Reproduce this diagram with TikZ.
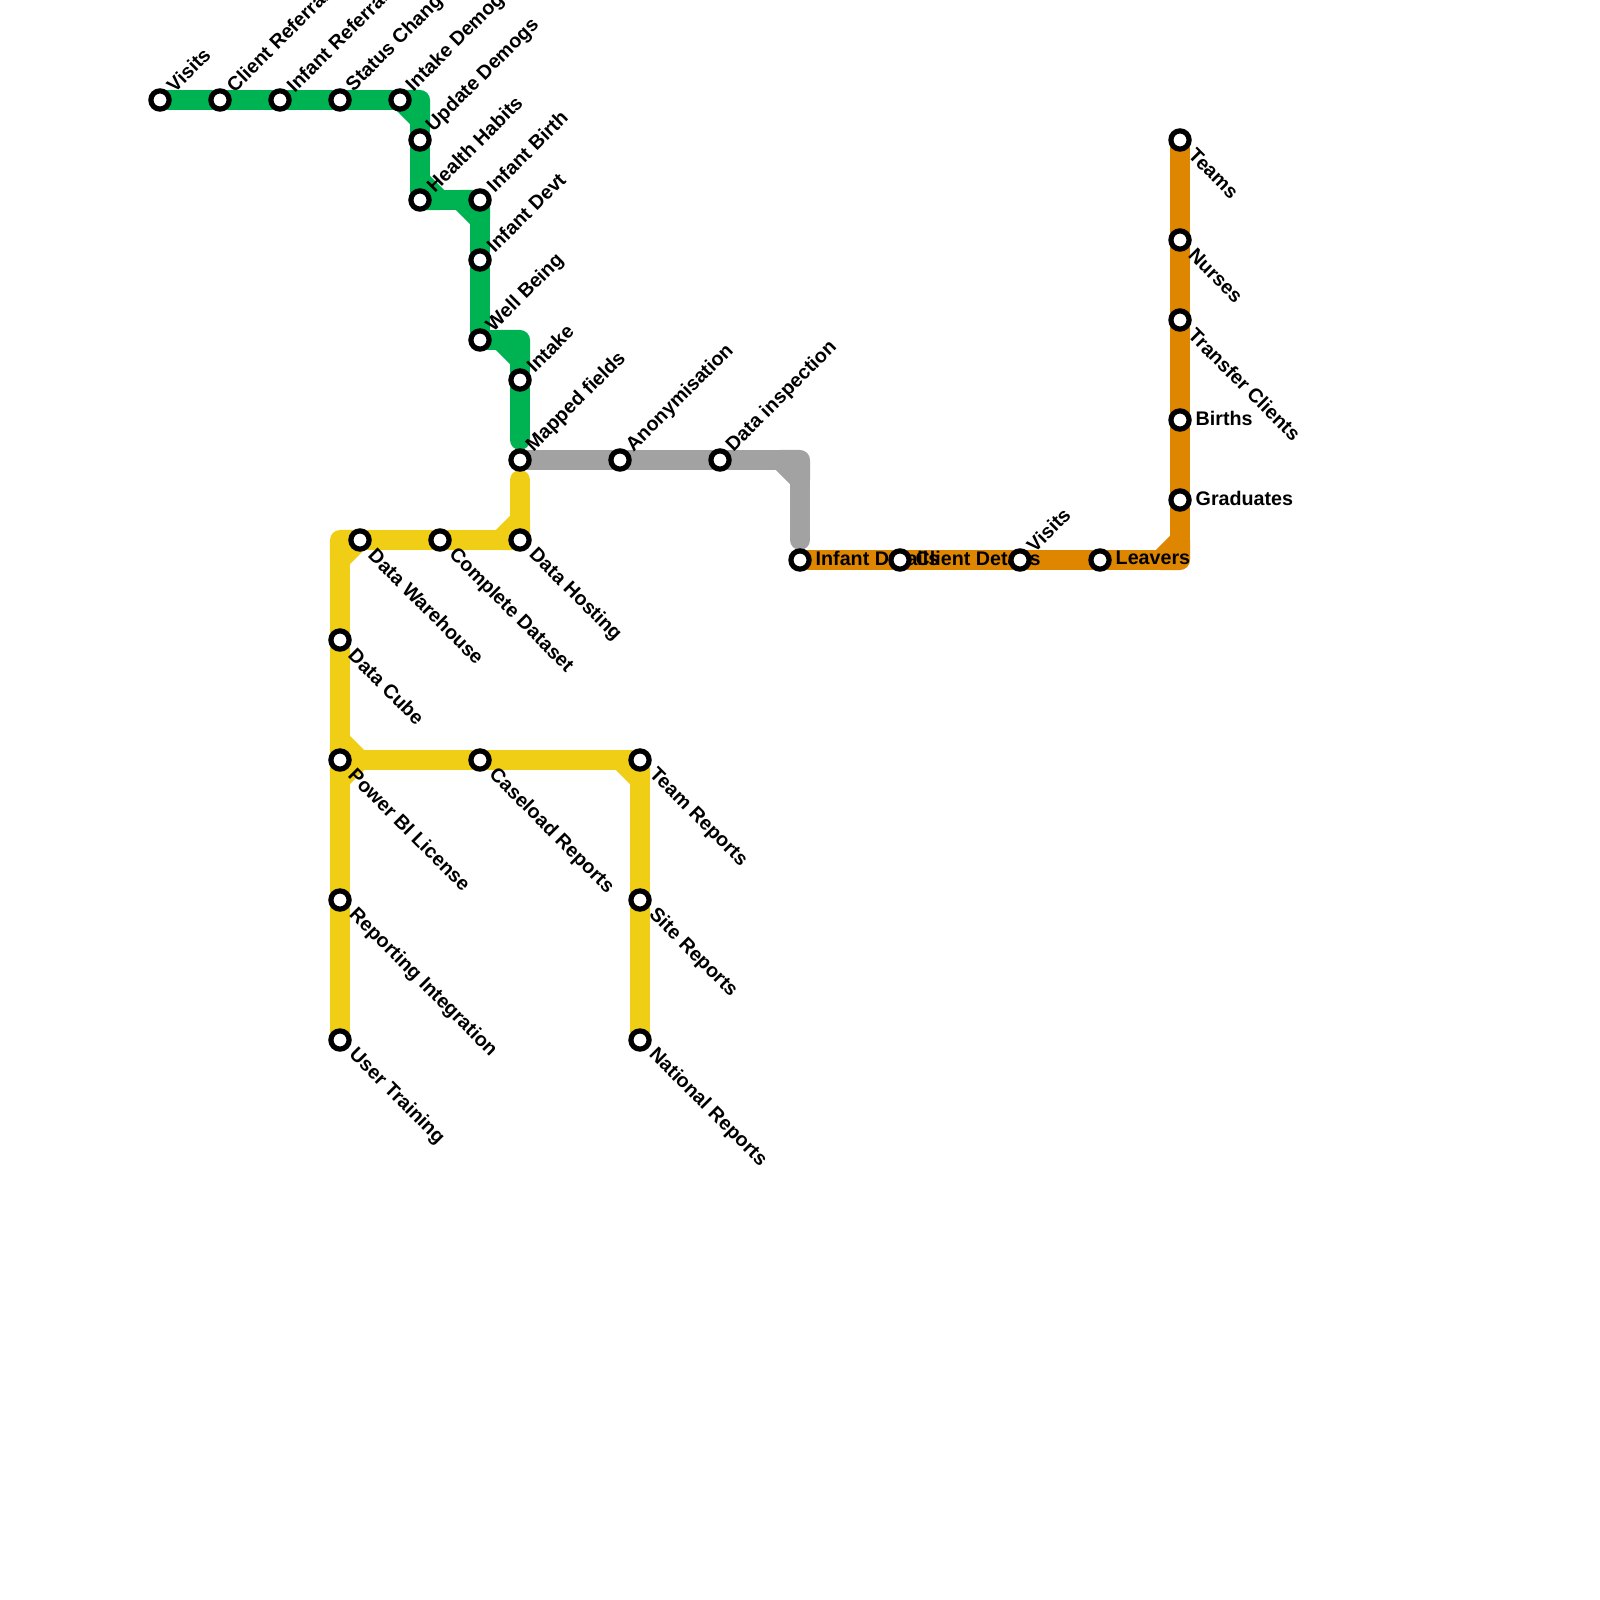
\documentclass[tikz,border=0pt]{standalone}
\usepackage{fontspec}
\setmainfont{Liberation Sans}
\usepackage{xcolor}
\definecolor{linegreen}{HTML}{00B352}
\definecolor{lineyellow}{HTML}{F0CE15}
\definecolor{linegray}{HTML}{A2A2A2}
\definecolor{lineorange}{HTML}{DF8600}
\usetikzlibrary{backgrounds}

\begin{document}
\begin{tikzpicture}[
  x=0.01cm, y=-0.01cm,
  stn/.style={circle, draw=black, fill=white, line width=0.052cm, minimum size=0.182cm, inner sep=0pt},
  track/.style={line width=0.2cm, line cap=round, line join=round},
  lbl/.style={font=\fontsize{5.6}{6.7}\selectfont\bfseries, inner sep=0pt, text=black},
  lblup/.style={lbl, anchor=west, xshift=0.095cm, yshift=0.11cm, rotate=45},
  lbldn/.style={lbl, anchor=west, xshift=0.115cm, yshift=-0.115cm, rotate=-45},
  lblrt/.style={lbl, anchor=west, xshift=0.15cm, yshift=0.02cm},
]
\useasboundingbox (0,0) rectangle (1600,1600);

\node[stn] (visits)    at (160,100) {};
\node[stn] (clientref) at (220,100) {};
\node[stn] (infantref) at (280,100) {};
\node[stn] (status)    at (340,100) {};
\node[stn] (intakedem) at (400,100) {};
\node[stn] (updatedem) at (420,140) {};
\node[stn] (health)    at (420,200) {};
\node[stn] (birth)     at (480,200) {};
\node[stn] (devt)      at (480,260) {};
\node[stn] (wellbeing) at (480,340) {};
\node[stn] (intake)    at (520,380) {};
\node[stn] (mapped)    at (520,460) {};
\node[stn] (anon)      at (620,460) {};
\node[stn] (inspect)   at (720,460) {};

\node[stn] (hosting)   at (520,540) {};
\node[stn] (complete)  at (440,540) {};
\node[stn] (warehouse) at (360,540) {};
\node[stn] (cube)      at (340,640) {};
\node[stn] (powerbi)   at (340,760) {};
\node[stn] (reporting) at (340,900) {};
\node[stn] (training)  at (340,1040) {};
\node[stn] (caseload)  at (480,760) {};
\node[stn] (team)      at (640,760) {};
\node[stn] (site)      at (640,900) {};
\node[stn] (national)  at (640,1040) {};

\node[stn] (infantdet) at (800,560) {};
\node[stn] (clientdet) at (900,560) {};
\node[stn] (visitsb)   at (1020,560) {};
\node[stn] (leavers)   at (1100,560) {};
\node[stn] (graduates) at (1180,500) {};
\node[stn] (births)    at (1180,420) {};
\node[stn] (transfer)  at (1180,320) {};
\node[stn] (nurses)    at (1180,240) {};
\node[stn] (teams)     at (1180,140) {};

\coordinate (ga) at (420,100);
\coordinate (gb) at (420,120);
\coordinate (gc) at (420,180);
\coordinate (gd) at (440,200);
\coordinate (ge) at (460,200);
\coordinate (gf) at (480,220);
\coordinate (gg) at (500,340);
\coordinate (gh) at (520,340);
\coordinate (gi) at (520,360);
\coordinate (gj) at (520,440);

\coordinate (ya) at (520,480);
\coordinate (yb) at (520,520);
\coordinate (yc) at (500,540);
\coordinate (yd) at (340,540);
\coordinate (ye) at (340,560);
\coordinate (yf) at (340,740);
\coordinate (yg) at (360,760);
\coordinate (yh) at (340,780);
\coordinate (yi) at (620,760);
\coordinate (yj) at (640,780);

\coordinate (ra) at (780,460);
\coordinate (rb) at (800,460);
\coordinate (rc) at (800,480);
\coordinate (rd) at (800,540);

\coordinate (oa) at (1160,560);
\coordinate (ob) at (1180,560);
\coordinate (oc) at (1180,540);

\begin{scope}[on background layer]
\draw[track, linegreen] (visits.center) -- (clientref.center) -- (infantref.center) -- (status.center) -- (intakedem.center);
\draw[track, linegreen] (intakedem.center) -- (ga) -- (gb) -- cycle;
\draw[track, linegreen] (gb) -- (updatedem.center) -- (health.center);
\draw[track, linegreen] (gc) -- (health.center) -- (gd) -- cycle;
\draw[track, linegreen] (gd) -- (ge);
\draw[track, linegreen] (ge) -- (birth.center) -- (gf) -- cycle;
\draw[track, linegreen] (gf) -- (devt.center) -- (wellbeing.center);
\draw[track, linegreen] (wellbeing.center) -- (gg);
\draw[track, linegreen] (gg) -- (gh) -- (gi) -- cycle;
\draw[track, linegreen] (gi) -- (intake.center) -- (gj);

\draw[track, lineyellow] (ya) -- (yb);
\draw[track, lineyellow] (yb) -- (hosting.center) -- (yc) -- cycle;
\draw[track, lineyellow] (yc) -- (complete.center) -- (warehouse.center);
\draw[track, lineyellow] (warehouse.center) -- (yd) -- (ye) -- cycle;
\draw[track, lineyellow] (ye) -- (cube.center) -- (yf);
\draw[track, lineyellow] (yf) -- (powerbi.center) -- (yg) -- cycle;
\draw[track, lineyellow] (yg) -- (powerbi.center) -- (yh) -- cycle;
\draw[track, lineyellow] (yh) -- (reporting.center) -- (training.center);
\draw[track, lineyellow] (yg) -- (caseload.center) -- (yi);
\draw[track, lineyellow] (yi) -- (team.center) -- (yj) -- cycle;
\draw[track, lineyellow] (yj) -- (site.center) -- (national.center);

\draw[track, linegray] (mapped.center) -- (anon.center) -- (inspect.center) -- (ra);
\draw[track, linegray] (ra) -- (rb) -- (rc) -- cycle;
\draw[track, linegray] (rc) -- (rd);

\draw[track, lineorange] (infantdet.center) -- (clientdet.center) -- (visitsb.center) -- (leavers.center) -- (oa);
\draw[track, lineorange] (oa) -- (ob) -- (oc) -- cycle;
\draw[track, lineorange] (oc) -- (graduates.center) -- (births.center) -- (transfer.center) -- (nurses.center) -- (teams.center);

\node[lblup] (lvisits)    at (visits)    {Visits};
\node[lblup] (lclientref) at (clientref) {Client Referrals};
\node[lblup] (linfantref) at (infantref) {Infant Referrals};
\node[lblup] (lstatus)    at (status)    {Status Changes};
\node[lblup] (lintakedem) at (intakedem) {Intake Demogs};
\node[lblup] (lupdatedem) at (updatedem) {Update Demogs};
\node[lblup] (lhealth)    at (health)    {Health Habits};
\node[lblup] (lbirth)     at (birth)     {Infant Birth};
\node[lblup] (ldevt)      at (devt)      {Infant Devt};
\node[lblup] (lwellbeing) at (wellbeing) {Well Being};
\node[lblup] (lintake)    at (intake)    {Intake};
\node[lblup] (lmapped)    at (mapped)    {Mapped fields};
\node[lblup] (lanon)      at (anon)      {Anonymisation};
\node[lblup] (linspect)   at (inspect)   {Data inspection};
\node[lblup] (lvisitsb)   at (visitsb)   {Visits};

\node[lbldn] (lhosting)   at (hosting)   {Data Hosting};
\node[lbldn] (lcomplete)  at (complete)  {Complete Dataset};
\node[lbldn] (lwarehouse) at (warehouse) {Data Warehouse};
\node[lbldn] (lcube)      at (cube)      {Data Cube};
\node[lbldn] (lpowerbi)   at (powerbi)   {Power BI License};
\node[lbldn] (lreporting) at (reporting) {Reporting Integration};
\node[lbldn] (ltraining)  at (training)  {User Training};
\node[lbldn] (lcaseload)  at (caseload)  {Caseload Reports};
\node[lbldn] (lteam)      at (team)      {Team Reports};
\node[lbldn] (lsite)      at (site)      {Site Reports};
\node[lbldn] (lnational)  at (national)  {National Reports};
\node[lbldn] (lteams)     at (teams)     {Teams};
\node[lbldn] (lnurses)    at (nurses)    {Nurses};
\node[lbldn] (ltransfer)  at (transfer)  {Transfer Clients};

\node[lblrt] (linfantdet) at (infantdet) {Infant Details};
\node[lblrt] (lclientdet) at (clientdet) {Client Details};
\node[lblrt] (lleavers)   at (leavers)   {Leavers};
\node[lblrt] (lgraduates) at (graduates) {Graduates};
\node[lblrt] (lbirths)    at (births)    {Births};
\end{scope}
\end{tikzpicture}
\end{document}
